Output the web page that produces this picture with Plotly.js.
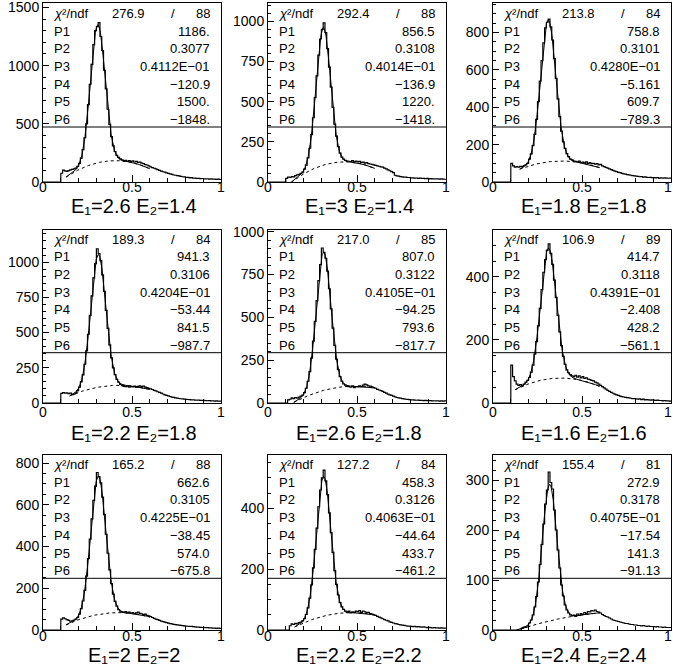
<!DOCTYPE html>
<html><head><meta charset="utf-8">
<script src="https://cdn.plot.ly/plotly-3.0.1.min.js"></script>
<style>html,body{margin:0;padding:0;background:#fff}#c{width:673px;height:667px}</style>
</head><body><div id="c"></div><script>
// ---------- data ----------
const E1 = ['2.6','3','1.8','2.2','2.6','1.6','2','2.2','2.4'];
const E2 = ['1.4','1.4','1.8','1.8','1.8','1.6','2','2.2','2.4'];
const chi2 = ['276.9','292.4','213.8','189.3','217.0','106.9','165.2','127.2','155.4'];
const ndf  = ['88','88','84','84','85','89','88','84','81'];
const P1 = [1186, 856.5, 758.8, 941.3, 807.0, 414.7, 662.6, 458.3, 272.9];
const P2 = [0.3077, 0.3108, 0.3101, 0.3106, 0.3122, 0.3118, 0.3105, 0.3126, 0.3178];
const P3 = [0.04112, 0.04014, 0.04280, 0.04204, 0.04105, 0.04391, 0.04225, 0.04063, 0.04075];
const P4 = [-120.9, -136.9, -5.161, -53.44, -94.25, -2.408, -38.45, -44.64, -17.54];
const P5 = [1500, 1220, 609.7, 841.5, 793.6, 428.2, 574.0, 433.7, 141.3];
const P6 = [-1848, -1418, -789.3, -987.7, -817.7, -561.1, -675.8, -461.2, -91.13];
const P1txt = ['1186.','856.5','758.8','941.3','807.0','414.7','662.6','458.3','272.9'];
const P2txt = ['0.3077','0.3108','0.3101','0.3106','0.3122','0.3118','0.3105','0.3126','0.3178'];
const P3txt = ['0.4112E\u221201','0.4014E\u221201','0.4280E\u221201','0.4204E\u221201','0.4105E\u221201','0.4391E\u221201','0.4225E\u221201','0.4063E\u221201','0.4075E\u221201'];
const P4txt = ['\u2212120.9','\u2212136.9','\u22125.161','\u221253.44','\u221294.25','\u22122.408','\u221238.45','\u221244.64','\u221217.54'];
const P5txt = ['1500.','1220.','609.7','841.5','793.6','428.2','574.0','433.7','141.3'];
const P6txt = ['\u22121848.','\u22121418.','\u2212789.3','\u2212987.7','\u2212817.7','\u2212561.1','\u2212675.8','\u2212461.2','\u221291.13'];
const fitLo = [0.13, 0.13, 0.15, 0.15, 0.145, 0.125, 0.13, 0.15, 0.13];
const fitHi = [0.6, 0.6, 0.6, 0.6, 0.6, 0.6, 0.6, 0.6, 0.6];
const xTickVals = [0, 0.5, 1];
const xTickText = ['0', '0.5', '1'];

// histogram contents, 100 bins of width 0.01 on [0,1]
const h1 = [0,0,0,0,0,0,0,0,0,0,
 75,102,96,92,98,104,108,112,120,134,
 160,205,278,380,500,665,840,1010,1180,1300,
 1335,1370,1250,1130,960,800,625,495,390,310,
 262,228,212,198,190,182,186,178,184,176,
 181,172,178,168,170,162,158,150,146,138,
 130,124,118,112,106,100,94,88,84,78,
 74,70,66,60,58,54,52,48,45,44,
 40,39,36,37,34,33,31,32,29,30,
 28,27,28,25,26,24,25,23,24,22];
const h2 = [0,0,0,0,0,0,0,0,0,0,
 22,30,28,34,32,40,44,48,54,62,
 80,105,150,210,295,400,525,660,790,890,
 950,990,930,830,715,590,465,360,285,220,
 180,155,142,134,130,128,126,133,126,130,
 125,128,122,124,118,120,114,112,110,106,
 104,100,98,94,92,86,82,76,70,64,
 58,42,38,36,34,32,30,30,28,28,
 26,26,24,25,23,24,22,22,21,22,
 20,21,19,20,19,20,18,19,18,17];
const h3 = [0,0,0,0,0,0,0,0,0,0,
 100,86,80,82,79,84,82,88,92,100,
 122,150,195,255,335,430,540,650,745,825,
 855,872,830,760,660,555,445,350,272,215,
 180,152,136,122,118,112,110,108,112,104,
 106,102,108,100,104,98,100,96,98,92,
 94,86,82,78,74,70,66,62,58,56,
 52,50,46,44,42,40,38,36,34,33,
 31,30,28,29,26,27,25,24,25,23,
 24,22,23,21,22,20,22,21,20,21];
const h4 = [0,0,0,0,0,0,0,0,0,0,
 68,74,70,72,66,70,60,62,72,88,
 113,150,200,275,370,488,622,760,888,990,
 1095,1060,1010,910,792,658,529,413,320,249,
 201,168,148,132,124,118,116,120,112,118,
 114,120,112,118,122,116,120,112,110,104,
 100,96,90,86,80,76,70,64,58,54,
 50,46,42,40,36,34,32,30,29,27,
 26,25,24,22,23,21,20,21,19,18,
 19,17,16,17,15,16,14,15,13,14];
const h5 = [0,0,0,0,0,0,0,0,0,0,
 0,18,22,30,26,32,28,34,40,46,
 60,86,127,183,262,361,476,598,714,808,
 905,880,845,770,667,550,437,336,256,195,
 154,127,111,104,100,96,92,98,90,96,
 94,100,96,104,110,106,100,98,94,90,
 86,80,76,72,68,62,58,52,48,44,
 40,36,32,30,28,26,24,22,21,20,
 18,18,17,16,17,15,16,14,15,14,
 13,14,12,13,12,13,11,12,11,12];
const h6 = [0,0,0,0,0,0,0,0,0,0,
 120,84,70,60,56,58,54,60,66,72,
 81,98,120,155,195,245,300,360,415,455,
 485,505,475,440,390,335,278,226,182,148,
 123,105,96,90,86,84,88,82,86,80,
 84,78,80,76,74,72,70,66,64,60,
 56,52,48,44,40,37,34,31,28,26,
 24,22,20,19,18,17,16,15,14,14,
 13,12,13,11,12,10,11,10,9,10,
 9,8,9,8,8,7,8,7,7,6];
const h7 = [0,0,0,0,0,0,0,0,0,0,
 52,58,54,50,46,42,44,48,52,60,
 76,102,139,190,258,342,436,533,621,690,
 755,735,705,637,553,459,368,288,222,172,
 137,114,98,90,86,84,88,82,86,80,
 84,78,82,86,80,78,74,76,70,68,
 64,60,56,52,50,46,43,40,38,35,
 33,31,29,27,26,25,23,22,21,20,
 19,18,17,17,16,15,14,14,13,12,
 12,11,11,10,10,9,9,8,9,8];
const h8 = [0,0,0,0,0,0,0,0,0,0,
 0,0,14,20,18,22,20,24,26,30,
 37,51,73,105,148,204,265,335,405,460,
 500,525,490,445,385,320,255,195,150,115,
 90,76,68,62,58,62,56,60,58,62,
 60,64,58,62,60,57,58,54,52,50,
 48,45,42,40,37,34,32,30,27,25,
 23,21,20,18,17,16,15,14,13,13,
 12,11,12,10,11,10,9,10,9,8,
 9,8,7,8,7,7,6,7,6,6];
const h9 = [0,0,0,0,0,0,0,0,0,0,
 0,0,0,0,0,0,4,6,5,8,
 14,20,30,46,67,96,131,171,212,252,
 280,316,295,282,240,200,160,124,90,68,
 50,40,34,30,28,30,27,32,29,33,
 31,35,33,37,36,39,38,40,37,36,
 34,31,29,27,26,24,22,20,19,18,
 17,16,15,14,13,13,12,11,11,10,
 10,9,9,8,9,8,7,8,7,7,
 7,6,7,6,6,5,6,5,5,5];
const hists = [h1,h2,h3,h4,h5,h6,h7,h8,h9];

// axis settings
const yMax   = [1538, 1114, 958, 1228, 1010, 549, 839, 575, 350];
const yDtick = [500, 250, 200, 250, 250, 200, 200, 200, 100];
const yMinor = [100, 50, 50, 50, 50, 50, 50, 50, 20];

// ---------- layout geometry (pixels) ----------
const W = 673, H = 667;
const colL = [43, 268, 493], colR = [221, 446, 671];
const rowT = [3, 230, 455], rowB = [182, 403, 630], boxB = [127, 352.7, 578.3];
const titleOff = [24, 30, 25];
const xLabStandoff = [-8, -4, -7];
const xLabOff = [5, 9, 6];
const FONT = 'Liberation Sans, Arial, Helvetica, DejaVu Sans, sans-serif';
const px = x => x / W, py = y => 1 - y / H;

const traces = [], annotations = [], shapes = [];
const layout = {
  width: W, height: H, margin: {l:0, r:0, t:0, b:0},
  paper_bgcolor: '#fff', plot_bgcolor: 'rgba(0,0,0,0)', showlegend: false,
  font: {family: FONT, size: 14, color: '#000'}
};

for (let k = 0; k < 9; k++) {
  const r = Math.floor(k / 3), c = k % 3;
  const sfx = k === 0 ? '' : String(k + 1);
  const L = colL[c], R = colR[c], T = rowT[r], B = rowB[r];
  // last column: its "1" label is pulled inside the page (drawn below as text)
  const lastCol = c === 2;
  const ttext = xTickText.map((t, i) => (lastCol && i === xTickText.length - 1) ? '' : t);
  layout['xaxis' + sfx] = {
    domain: [px(L), px(R)], anchor: 'y' + sfx, range: [0, 1],
    showline: true, mirror: true, linecolor: '#000', linewidth: 1,
    ticks: 'inside', ticklen: 7, tickwidth: 1, tickcolor: '#000',
    tickmode: 'array', tickvals: xTickVals, ticktext: ttext,
    showgrid: false, zeroline: false,
    tickfont: {family: FONT, size: 14, color: '#000'},
    ticklabelstandoff: xLabStandoff[r], ticklabeloverflow: 'allow',
    minor: {ticks: 'inside', ticklen: 4, tickcolor: '#000', tick0: 0, dtick: 0.1, showgrid: false},
    fixedrange: true
  };
  if (lastCol) {
    annotations.push({xref: 'paper', yref: 'paper', x: px(R - 3.5), y: py(B + xLabOff[r]),
      text: xTickText[xTickText.length - 1], xanchor: 'center', yanchor: 'middle',
      showarrow: false, font: {family: FONT, size: 14, color: '#000'}});
  }
  layout['yaxis' + sfx] = {
    domain: [py(B), py(T)], anchor: 'x' + sfx, range: [0, yMax[k]],
    showline: true, mirror: true, linecolor: '#000', linewidth: 1,
    ticks: 'inside', ticklen: 6, tickwidth: 1, tickcolor: '#000',
    tickmode: 'linear', tick0: 0, dtick: yDtick[k], showgrid: false, zeroline: false,
    tickfont: {family: FONT, size: 14, color: '#000'},
    ticklabeloverflow: 'allow',
    minor: {ticks: 'inside', ticklen: 3, tickcolor: '#000', tick0: 0, dtick: yMinor[k], showgrid: false},
    fixedrange: true
  };
  const xa = 'x' + sfx, ya = 'y' + sfx;
  // histogram as steps
  const hx = [], hy = [];
  const h = hists[k];
  for (let i = 0; i < h.length; i++) { hx.push(i / h.length); hy.push(h[i]); }
  hx.push(1); hy.push(h[h.length - 1]);
  traces.push({x: hx, y: hy, xaxis: xa, yaxis: ya, type: 'scatter', mode: 'lines',
    line: {shape: 'hv', color: '#000', width: 1.2}, hoverinfo: 'skip'});
  // fit: gaussian + 2nd order polynomial, from the printed parameters
  const fx = [], fy = [], bx = [], by = [];
  for (let x = fitLo[k]; x <= fitHi[k] + 1e-9; x += 0.002) {
    const g = P1[k] * Math.exp(-0.5 * Math.pow((x - P2[k]) / P3[k], 2));
    const b = P4[k] + P5[k] * x + P6[k] * x * x;
    fx.push(x); fy.push(g + b); bx.push(x); by.push(b);
  }
  traces.push({x: fx, y: fy, xaxis: xa, yaxis: ya, type: 'scatter', mode: 'lines',
    line: {color: '#000', width: 1}, hoverinfo: 'skip'});
  traces.push({x: bx, y: by, xaxis: xa, yaxis: ya, type: 'scatter', mode: 'lines',
    line: {color: '#000', width: 1, dash: '3px,3px'}, hoverinfo: 'skip'});

  // stats box bottom line
  shapes.push({type: 'line', xref: 'paper', yref: 'paper', x0: px(L), x1: px(R),
    y0: py(boxB[r]), y1: py(boxB[r]), line: {color: '#000', width: 1}});

  // stats text
  const lines = [
    ['P1', P1txt[k]], ['P2', P2txt[k]], ['P3', P3txt[k]],
    ['P4', P4txt[k]], ['P5', P5txt[k]], ['P6', P6txt[k]]
  ];
  const yc = i => boxB[r] - 7.5 - 17.7 * (6 - i);
  const sfont = {family: FONT, size: 13, color: '#000'};
  const ann = (x, y, text, xanchor) => annotations.push({xref: 'paper', yref: 'paper',
    x: px(x), y: py(y), text, xanchor, yanchor: 'middle', showarrow: false, font: sfont});
  ann(L + 9, yc(0), '<i>\u03c7</i>\u00b2/ndf', 'left');
  ann(L + 104, yc(0), chi2[k], 'right');
  ann(L + 130, yc(0), '/', 'center');
  ann(R - 9, yc(0), ndf[k], 'right');
  lines.forEach((ln, i) => {
    ann(L + 9, yc(i + 1), ln[0], 'left');
    ann(R - 9, yc(i + 1), ln[1], 'right');
  });
  // panel title
  annotations.push({xref: 'paper', yref: 'paper', x: px((L + R) / 2 + 2), y: py(B + titleOff[r]),
    text: 'E\u2081=' + E1[k] + ' E\u2082=' + E2[k],
    xanchor: 'center', yanchor: 'middle', showarrow: false,
    font: {family: FONT, size: 20, color: '#000'}});
}
layout.annotations = annotations;
layout.shapes = shapes;
Plotly.newPlot('c', traces, layout, {staticPlot: true, displayModeBar: false});
</script></body></html>
